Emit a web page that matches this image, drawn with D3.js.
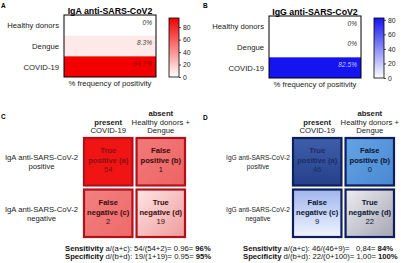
<!DOCTYPE html>
<html><head><meta charset="utf-8">
<script src="https://cdn.jsdelivr.net/npm/d3@7"></script>
<style>
html,body{margin:0;padding:0;background:#fff;}
svg{display:block;font-family:"Liberation Sans",Arial,sans-serif;}
</style></head>
<body><svg id="c" width="401" height="263"></svg>
<script>
// ---- data ----
const groups = ["Healthy donors", "Dengue", "COVID-19"];
const igaFreq = [0, 8.3, 94.7];
const iggFreq = [0, 0, 82.5];
const igaLabels = ["0%", "8.3%", "94.7%"];
const iggLabels = ["0%", "0%", "82.5%"];
const scaleTicks = [0, 20, 40, 60, 80];
const cmCols = ["present", "absent"];
const cmColHeaders = [["present", "COVID-19"], ["absent", "Healthy donors +", "Dengue"]];
const cmRows = ["positive", "negative"];
const cellNames = [["True", "positive (a)"], ["False", "positive (b)"], ["False", "negative (c)"], ["True", "negative (d)"]];
const igaCounts = [54, 1, 2, 19];
const iggCounts = [46, 0, 9, 22];
const igaSummary = [["Sensitivity", " a/(a+c): 54/(54+2)= 0.96= ", "96%"], ["Specificity", " d/(b+d): 19/(1+19)= 0.95= ", "95%"]];
const iggSummary = [["Sensitivity", " a/(a+c): 46/(46+9)=   0,84= ", "84%"], ["Specificity", " d/(b+d): 22/(0+100)= 1,00= ", "100%"]];

const svg = d3.select("#c");
const defs = svg.append("defs");

function letter(x, y, t) {
  svg.append("text").attr("x", x).attr("y", y).attr("font-size", 6.5).attr("font-weight", "bold").text(t);
}
letter(1, 8, "A"); letter(203, 8, "B"); letter(1, 119, "C"); letter(203, 120, "D");

// ---- heatmaps ----
function heatmap(o) {
  const g = svg.append("g");
  const y = d3.scaleBand().domain(groups).range([o.top, o.bottom]);
  const x = d3.scaleBand().domain(["% frequency of positivity"]).range([o.left, o.right]);
  const color = d3.scaleLinear().domain([0, o.max]).range(["#ffffff", o.col]);
  g.selectAll("rect.cell").data(groups).join("rect")
    .attr("x", x.range()[0]).attr("width", x.bandwidth())
    .attr("y", d => y(d)).attr("height", y.bandwidth())
    .attr("fill", (d, i) => color(o.vals[i]));
  g.append("rect").attr("x", o.left).attr("y", o.top).attr("width", o.right - o.left)
    .attr("height", o.bottom - o.top).attr("fill", "none").attr("stroke", "#000").attr("stroke-width", 1);
  g.selectAll("text.val").data(groups).join("text")
    .attr("x", o.right - 4).attr("y", d => y(d) + 9.5).attr("text-anchor", "end")
    .attr("font-size", 6.6).attr("font-style", "italic")
    .style("fill", (d, i) => o.labCol[i]).text((d, i) => o.labels[i]);
  const ax = g.append("g").attr("transform", `translate(${o.left - 1},0)`)
    .call(d3.axisLeft(y).tickSize(0).tickPadding(4));
  ax.select(".domain").remove();
  ax.selectAll("text").attr("font-size", 7.7).attr("font-family", null).style("fill", "#222").attr("dy", "0.4em");
  const xa = g.append("g").attr("transform", `translate(0,${o.bottom})`)
    .call(d3.axisBottom(x).tickSize(0).tickPadding(4));
  xa.select(".domain").remove();
  xa.selectAll("text").attr("font-size", 7.7).attr("font-family", null).style("fill", "#222");
  g.append("text").attr("x", (o.left + o.right) / 2).attr("y", o.top - 1.5).attr("text-anchor", "middle")
    .attr("font-size", 8.8).attr("font-weight", "bold").text(o.title);
  // colorbar
  const gid = "cb" + o.id;
  const lg = defs.append("linearGradient").attr("id", gid).attr("x1", 0).attr("y1", 1).attr("x2", 0).attr("y2", 0);
  lg.append("stop").attr("offset", 0).attr("stop-color", "#ffffff");
  lg.append("stop").attr("offset", 1).attr("stop-color", o.col);
  const cs = d3.scaleLinear().domain([0, o.max]).range([o.cbBottom, o.cbTop]);
  g.append("rect").attr("x", o.cbX).attr("y", o.cbTop).attr("width", 10).attr("height", o.cbBottom - o.cbTop)
    .attr("fill", `url(#${gid})`).attr("stroke", "#000").attr("stroke-width", 0.8);
  const ca = g.append("g").attr("transform", `translate(${o.cbX + 10},0)`)
    .call(d3.axisRight(cs).tickValues(scaleTicks).tickSize(2).tickPadding(2));
  ca.select(".domain").remove();
  ca.selectAll("line").attr("stroke", "#000").attr("stroke-width", 0.7);
  ca.selectAll("text").attr("font-size", 6.8).attr("font-family", null).style("fill", "#222");
}
heatmap({id: "a", left: 64, right: 156, top: 15, bottom: 77, vals: igaFreq, labels: igaLabels, max: 94.7,
  col: "#f20000", labCol: ["#333", "#444", "#9a0000"], title: "IgA anti-SARS-CoV2",
  cbX: 169, cbTop: 18, cbBottom: 77});
heatmap({id: "b", left: 269, right: 361, top: 16, bottom: 78, vals: iggFreq, labels: iggLabels, max: 82.5,
  col: "#1414f0", labCol: ["#333", "#333", "#c8c8ff"], title: "IgG anti-SARS-CoV2",
  cbX: 374, cbTop: 18, cbBottom: 78});

// ---- confusion matrices ----
function grad(id, c1, c2, diag) {
  const lg = defs.append("linearGradient").attr("id", id)
    .attr("x1", 0).attr("y1", 0).attr("x2", diag ? 1 : 0).attr("y2", 1);
  lg.append("stop").attr("offset", 0).attr("stop-color", c1);
  lg.append("stop").attr("offset", 1).attr("stop-color", c2);
  return `url(#${id})`;
}
function matrix(o) {
  const g = svg.append("g");
  const x = d3.scaleBand().domain(cmCols).range([o.left, o.right]).paddingInner(0.04);
  const y = d3.scaleBand().domain(cmRows).range([o.top, o.bottom]).paddingInner(0.04);
  const cells = [];
  cmRows.forEach((r, ri) => cmCols.forEach((c, ci) => cells.push({r, c, i: ri * 2 + ci})));
  g.selectAll("rect").data(cells).join("rect")
    .attr("x", d => x(d.c) + 1).attr("y", d => y(d.r) + 1)
    .attr("width", x.bandwidth() - 2).attr("height", y.bandwidth() - 2)
    .attr("fill", d => o.fills[d.i]).attr("stroke", o.border).attr("stroke-width", 2.2);
  const t = g.selectAll("text.cell").data(cells).join("text")
    .attr("text-anchor", "middle").attr("font-size", 7.6)
    .style("fill", d => o.textCol[d.i]);
  t.append("tspan").attr("x", d => x(d.c) + x.bandwidth() / 2).attr("y", d => y(d.r) + 16)
    .attr("font-weight", "bold").text(d => cellNames[d.i][0]);
  t.append("tspan").attr("x", d => x(d.c) + x.bandwidth() / 2).attr("y", d => y(d.r) + 26)
    .attr("font-weight", "bold").text(d => cellNames[d.i][1]);
  t.append("tspan").attr("x", d => x(d.c) + x.bandwidth() / 2).attr("y", d => y(d.r) + 35)
    .text(d => o.counts[d.i]);
  // column headers
  cmCols.forEach((c, ci) => {
    const lines = cmColHeaders[ci];
    lines.forEach((l, li) => {
      g.append("text").attr("x", x(c) + x.bandwidth() / 2)
        .attr("y", o.top - 4 - (lines.length - 1 - li) * 8.5)
        .attr("text-anchor", "middle").attr("font-size", 7.7)
        .attr("font-weight", li === 0 ? "bold" : null).style("fill", "#222").text(l);
    });
  });
  // row headers
  cmRows.forEach(r => {
    const cy = y(r) + y.bandwidth() / 2;
    [o.rowName, r].forEach((l, li) => {
      g.append("text").attr("x", o.rowX).attr("y", cy + 3 + (li - 0.5) * 9)
        .attr("text-anchor", "middle").attr("font-size", o.rowFont).style("fill", "#222").text(l);
    });
  });
  // summary
  o.summary.forEach((s, i) => {
    const tx = g.append("text").attr("x", o.sumX).attr("y", 250.5 + i * 8)
      .attr("font-size", 7.7).style("fill", "#111").attr("xml:space", "preserve").style("white-space", "pre");
    tx.append("tspan").attr("font-weight", "bold").text(s[0]);
    tx.append("tspan").text(s[1]);
    tx.append("tspan").attr("font-weight", "bold").text(s[2]);
  });
}
matrix({left: 83, right: 186, top: 137, bottom: 238, counts: igaCounts,
  fills: ["#f01414", grad("ra", "#f27a7a", "#ee6464", true), grad("rc", "#f28080", "#ee6a6a", true),
          grad("rd", "#fde6e6", "#f09a9a", true)],
  border: "#b3101b", textCol: ["#8a1010", "#3a0a0a", "#3a0a0a", "#3a0a0a"],
  rowName: "IgA anti-SARS-CoV-2", rowX: 41.5, rowFont: 7.7, summary: igaSummary, sumX: 65});
matrix({left: 292, right: 395, top: 137, bottom: 238, counts: iggCounts,
  fills: [grad("ba", "#3f5eaa", "#25408a", false), grad("bb", "#64a4e4", "#4a88d2", true),
          grad("bc", "#a2b6ee", "#f0f4fd", false), grad("bd", "#ececf0", "#a6a6b4", true)],
  border: "#0d1f5c", textCol: ["#1b2c66", "#0a1430", "#0a1430", "#0a1430"],
  rowName: "IgG anti-SARS-CoV-2", rowX: 258, rowFont: 6.6, summary: iggSummary, sumX: 243});
</script></body></html>
